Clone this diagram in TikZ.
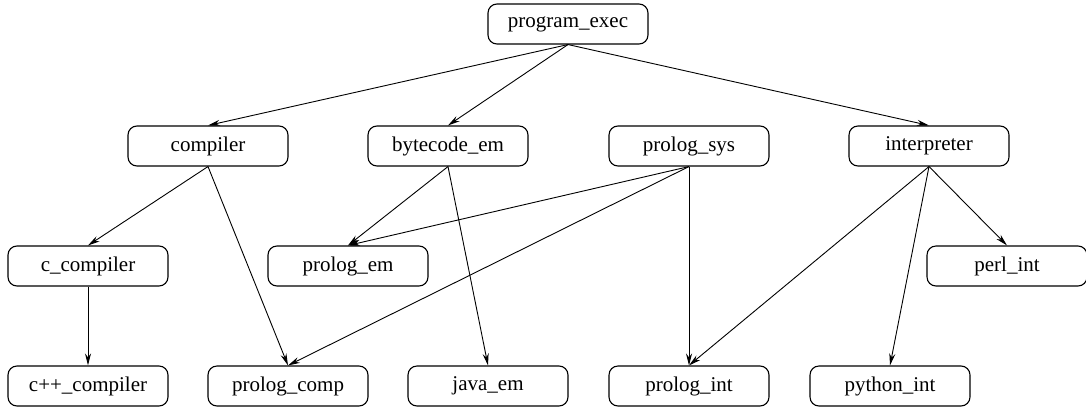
\documentclass[tikz,border=0pt]{standalone}
\usepackage{fontspec}
\setmainfont{Liberation Serif}
\usetikzlibrary{arrows.meta}
\begin{document}
\begin{tikzpicture}[x=1pt,y=-1pt,
  nd/.style={draw, rounded corners=9pt, minimum width=160pt, minimum height=40pt, inner sep=0pt, font=\fontsize{21}{24}\selectfont, line width=1.1pt},
  edge/.style={-{Stealth[length=12pt,width=6pt]}, line width=0.9pt}]
\useasboundingbox (0,0) rectangle (1086,410);
\fill[white] (0,0) rectangle (1086,410);
\node[nd] (pe) at (568,24) {program\_exec};
\node[nd] (co) at (208,146) {compiler};
\node[nd] (be) at (448,146) {bytecode\_em};
\node[nd] (ps) at (689,146) {prolog\_sys};
\node[nd] (in) at (929,146) {interpreter};
\node[nd] (cc) at (88,266) {c\_compiler};
\node[nd] (pm) at (348,266) {prolog\_em};
\node[nd] (pl) at (1007,266) {perl\_int};
\node[nd] (cp) at (88,386) {c++\_compiler};
\node[nd] (pc) at (288,386) {prolog\_comp};
\node[nd] (je) at (488,386) {java\_em};
\node[nd] (pi) at (689,386) {prolog\_int};
\node[nd] (py) at (890,386) {python\_int};
\draw[edge] (pe.south) -- (co.north);
\draw[edge] (pe.south) -- (be.north);
\draw[edge] (pe.south) -- (in.north);
\draw[edge] (co.south) -- (cc.north);
\draw[edge] (co.south) -- (pc.north);
\draw[edge] (be.south) -- (pm.north);
\draw[edge] (be.south) -- (je.north);
\draw[edge] (ps.south) -- (pm.north);
\draw[edge] (ps.south) -- (pc.north);
\draw[edge] (ps.south) -- (pi.north);
\draw[edge] (in.south) -- (pi.north);
\draw[edge] (in.south) -- (py.north);
\draw[edge] (in.south) -- (pl.north);
\draw[edge] (cc.south) -- (cp.north);
\end{tikzpicture}
\end{document}
